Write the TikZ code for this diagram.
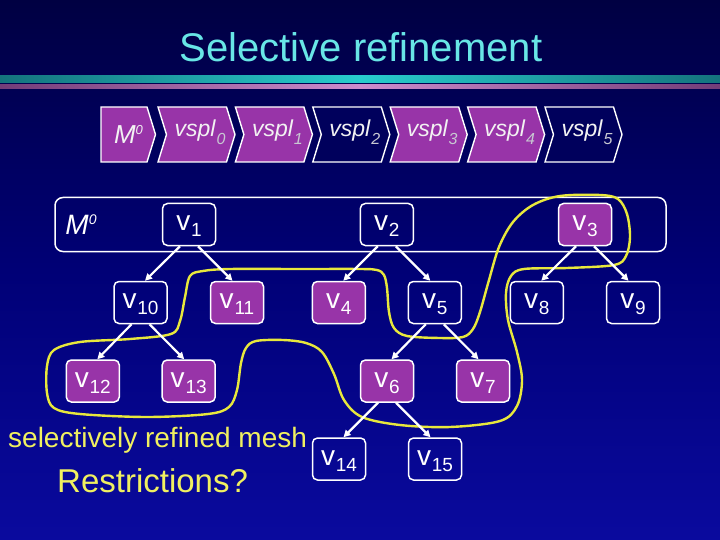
\documentclass[tikz,border=0pt]{standalone}
\usepackage{fontspec}
\setmainfont{Liberation Sans}
\usetikzlibrary{arrows.meta}
\definecolor{bgtop}{RGB}{0,0,66}
\definecolor{bgmid}{RGB}{0,0,118}
\definecolor{bgbot}{RGB}{10,10,158}
\definecolor{titlecyan}{RGB}{104,230,230}
\definecolor{tealbright}{RGB}{40,205,205}
\definecolor{tealdark}{RGB}{20,115,125}
\definecolor{pinkbright}{RGB}{205,140,205}
\definecolor{pinkdark}{RGB}{115,60,120}
\definecolor{purp}{RGB}{152,52,168}
\definecolor{navy}{RGB}{0,0,92}
\definecolor{subgray}{RGB}{200,200,210}
\definecolor{hilite}{RGB}{232,232,60}
\definecolor{ytext}{RGB}{240,240,96}
\newcommand{\vsub}[1]{v\kern0.8pt\raisebox{-6pt}{\fontsize{19}{19}\selectfont #1}}
\newcommand{\vsplsub}[1]{\itshape vspl\kern1pt\raisebox{-8pt}{\fontsize{16}{16}\selectfont\color{subgray}#1}}
\tikzset{
  tnode/.style={draw=white, line width=1.5pt, rounded corners=5pt,
    minimum width=53pt, minimum height=42pt, inner sep=0pt, text=white,
    font=\fontsize{28}{28}\selectfont, text height=16pt, text depth=3.6pt},
  pnode/.style={tnode, fill=purp},
  chevshape/.style={draw=white, line width=1.4pt, line join=miter},
  chevtext/.style={inner sep=0pt, text=white!90!gray,
    font=\fontsize{23}{23}\selectfont, text height=12pt, text depth=7.6pt},
  tarrow/.style={draw=white, line width=2.2pt, -{Triangle[length=7pt,width=7pt]}},
  outline/.style={draw=hilite, line width=2.4pt}
}
\begin{document}
\begin{tikzpicture}[x=1pt, y=-1pt]
\useasboundingbox (0,0) rectangle (720,540);
% background
\shade[top color=bgtop, bottom color=bgbot, middle color=bgmid] (0,0) rectangle (720,540);
% title and rules
\node[anchor=base, inner sep=0pt, text=titlecyan, font=\fontsize{40}{40}\selectfont] (title) at (361,62) {Selective refinement};
\shade[left color=tealdark, right color=tealdark, middle color=tealbright] (0,76) rectangle (720,83);
\shade[left color=pinkdark, right color=pinkdark, middle color=pinkbright] (0,85) rectangle (720,89);
% chevrons
\draw[chevshape, fill=purp] (101,107) -- (147,107) -- (155.5,134.5) -- (147,162) -- (101,162) -- cycle;
\node[inner sep=0pt, text=white!90!gray, font=\fontsize{26}{26}\selectfont\itshape, text height=20pt, text depth=2.4pt] (m0chev) at (128.5,134.5) {M\raisebox{9pt}{\fontsize{13}{13}\selectfont 0}};
\foreach \x/\c/\i in {158/purp/0, 235.4/purp/1, 312.8/navy/2, 390.2/purp/3, 467.6/purp/4, 545/navy/5}{
  \draw[chevshape, fill=\c] (\x,107) -- ++(68.5,0) -- ++(8.5,27.5) -- ++(-8.5,27.5) -- ++(-68.5,0) -- ++(8.5,-27.5) -- cycle;
  \node[chevtext] (vspl\i) at (\x+42,134.5) {\vsplsub{\i}};
}
% level-0 box
\node[draw=white, line width=1.5pt, rounded corners=8pt, minimum width=611pt, minimum height=54pt, inner sep=0pt] (level0) at (360.5,224.5) {};
\node[anchor=base, inner sep=0pt, text=white, font=\fontsize{28}{28}\selectfont\itshape] (m0box) at (81,235) {M\raisebox{10pt}{\fontsize{14}{14}\selectfont 0}};
% yellow outline
\draw[outline] plot[smooth cycle, tension=0.55] coordinates {
 (190,276) (203,271) (230,269) (300,269) (360,269) (377,270) (384,275)
 (387,288) (389,312) (394,328) (407,336) (440,338) (463,337) (473,329)
 (480,312) (489,280) (499,247) (513,222) (533,205) (560,196) (600,195)
 (618,199) (627,214) (630,237) (626,256) (614,265) (567,268) (524,269)
 (511,276) (506,293) (508,320) (517,352) (522,380) (517,406) (500,421)
 (450,427) (400,425) (362,417) (344,400) (334,374) (322,352) (306,343)
 (283,340) (256,341) (246,348) (241,363) (237,390) (229,407) (208,414)
 (147,417) (80,414) (54,408) (47,393) (47,366) (54,350) (80,342)
 (130,339) (171,334) (180,321) (185,297)};
% tree nodes
\node[tnode] (v1) at (189,224.5) {\vsub{1}};
\node[tnode] (v2) at (386.8,224.5) {\vsub{2}};
\node[pnode] (v3) at (585,224.5) {\vsub{3}};
\node[tnode] (v10) at (140.5,302.5) {\vsub{10}};
\node[pnode] (v11) at (237,302.5) {\vsub{11}};
\node[pnode] (v4) at (338.8,302.5) {\vsub{4}};
\node[tnode] (v5) at (434.8,302.5) {\vsub{5}};
\node[tnode] (v8) at (536.8,302.5) {\vsub{8}};
\node[tnode] (v9) at (633,302.5) {\vsub{9}};
\node[pnode] (v12) at (92.8,381) {\vsub{12}};
\node[pnode] (v13) at (188.7,381) {\vsub{13}};
\node[pnode] (v6) at (387,381) {\vsub{6}};
\node[pnode] (v7) at (483,381) {\vsub{7}};
\node[tnode] (v14) at (339,459) {\vsub{14}};
\node[tnode] (v15) at (435,459) {\vsub{15}};
% arrows
\foreach \p/\a/\b in {v1/v10/v11, v2/v4/v5, v3/v8/v9, v10/v12/v13, v5/v6/v7, v6/v14/v15}{
  \draw[tarrow] ([xshift=-9pt]\p.south) -- ([xshift=4.5pt]\a.north);
  \draw[tarrow] ([xshift=9pt]\p.south) -- ([xshift=-4.5pt]\b.north);
}
% captions
\node[anchor=base west, inner sep=0pt, text=ytext, font=\fontsize{28}{28}\selectfont] (caption) at (8,447) {selectively refined mesh};
\node[anchor=base west, inner sep=0pt, text=ytext, font=\fontsize{33}{33}\selectfont] (question) at (57,492) {Restrictions?};
\end{tikzpicture}
\end{document}
